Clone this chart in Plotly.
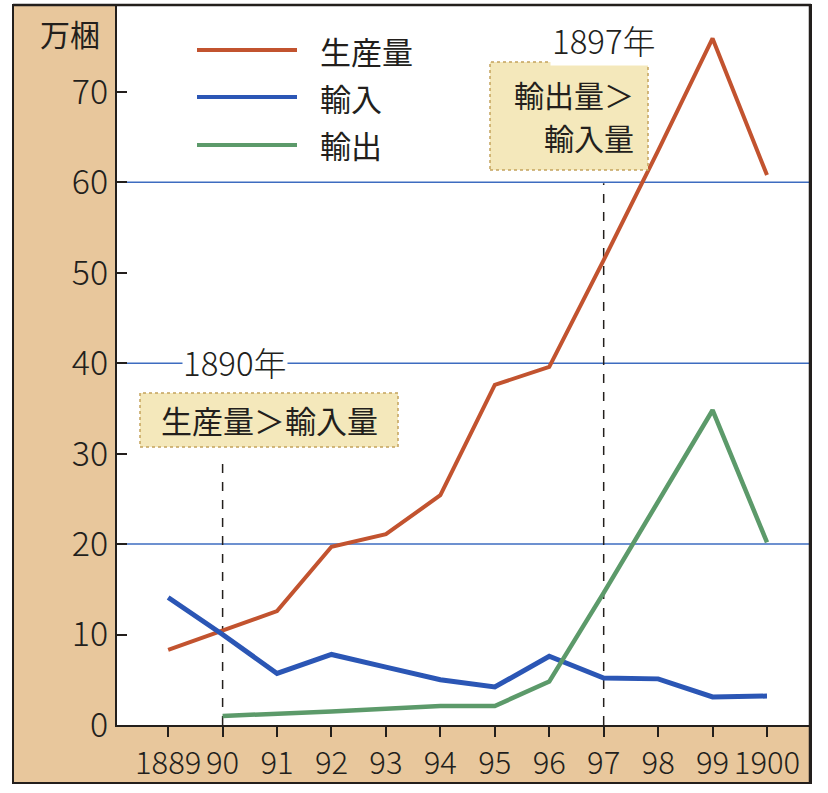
import plotly.graph_objects as go

years = [1889, 1890, 1891, 1892, 1893, 1894, 1895, 1896, 1897, 1898, 1899, 1900]
tick_labels = ["1889", "90", "91", "92", "93", "94", "95", "96", "97", "98", "99", "1900"]
production = [8.3, 10.5, 12.6, 19.7, 21.1, 25.4, 37.6, 39.6, 51.4, 63.5, 75.9, 60.8]
imports = [14.1, 10.0, 5.7, 7.8, 6.4, 5.0, 4.2, 7.6, 5.2, 5.1, 3.1, 3.2]
exports = [None, 1.0, 1.2, 1.5, 1.8, 2.1, 2.1, 4.8, 14.6, 24.7, 34.8, 20.2]
series_names = ["生産量", "輸入", "輸出"]
series_colors = ["#c2532f", "#2b56b5", "#5c9a6a"]
y_ticks = [0, 10, 20, 30, 40, 50, 60, 70]
grid_values = [20, 40, 60]
marker_years = [1890, 1897]
marker_tops = [29.3, 59.9]

W, H = 828, 793
L, R, T, B = 117, 18, 5, 68
PW, PH = W - L - R, H - T - B


def px(x):
    return (x - L) / PW


def py(y):
    return (H - B - y) / PH


NUM = "Noto Sans CJK JP"
JP = "Noto Sans CJK JP"
INK = "#231f1c"

fig = go.Figure()
for name, vals, col, w in zip(series_names, [production, imports, exports], series_colors, [4, 5, 4.5]):
    fig.add_trace(go.Scatter(x=years, y=vals, mode="lines", name=name,
                             line=dict(color=col, width=w), showlegend=False, hoverinfo="skip"))

shapes = []
# tan frame
shapes.append(dict(type="rect", xref="paper", yref="paper", x0=px(13), x1=px(811), y0=py(783), y1=py(5),
                   fillcolor="#e8c79c", line=dict(color=INK, width=2), layer="below"))
# white plot area
shapes.append(dict(type="rect", xref="paper", yref="paper", x0=0, x1=px(810), y0=0, y1=1,
                   fillcolor="white", line=dict(width=0), layer="below"))
for g in grid_values:
    shapes.append(dict(type="line", xref="paper", yref="y", x0=0, x1=px(810), y0=g, y1=g,
                       line=dict(color="#3d6cc0", width=1.5), layer="below"))
for yr, top in zip(marker_years, marker_tops):
    shapes.append(dict(type="line", xref="x", yref="y", x0=yr, x1=yr, y0=0, y1=top,
                       line=dict(color=INK, width=1.5, dash="dash"), layer="below"))
# frame lines top/right
shapes.append(dict(type="line", xref="paper", yref="paper", x0=px(13), x1=px(811), y0=py(5), y1=py(5),
                   line=dict(color=INK, width=2.5)))
shapes.append(dict(type="line", xref="paper", yref="paper", x0=px(810), x1=px(810), y0=py(5), y1=py(783),
                   line=dict(color=INK, width=2.5)))
# annotation boxes
shapes.append(dict(type="rect", xref="paper", yref="paper", x0=px(140), x1=px(398), y0=py(447), y1=py(393),
                   fillcolor="#f4e8bb", line=dict(color="#c4a35c", width=1.5, dash="dot")))
shapes.append(dict(type="rect", xref="paper", yref="paper", x0=px(490), x1=px(648), y0=py(170), y1=py(62),
                   fillcolor="#f4e8bb", line=dict(color="#c4a35c", width=1.5, dash="dot")))
# legend sample lines
leg_y = [50, 97, 145]
for col, ly in zip(series_colors, leg_y):
    shapes.append(dict(type="line", xref="paper", yref="paper", x0=px(197), x1=px(297), y0=py(ly), y1=py(ly),
                       line=dict(color=col, width=4)))

annotations = []
for name, ly in zip(series_names, leg_y):
    annotations.append(dict(x=px(318), y=py(ly), xref="paper", yref="paper", text=name, showarrow=False,
                            xanchor="left", yanchor="middle", font=dict(family=JP, size=31, color=INK)))
annotations.append(dict(x=px(70), y=py(33), xref="paper", yref="paper", text="万梱", showarrow=False,
                        xanchor="center", yanchor="middle", font=dict(family=JP, size=30, color=INK)))
annotations.append(dict(x=px(235), y=py(362), xref="paper", yref="paper", text="1890年", showarrow=False,
                        xanchor="center", yanchor="middle", bgcolor="white", borderpad=0,
                        font=dict(family=NUM, size=33, color=INK, weight=300)))
annotations.append(dict(x=px(604), y=py(40), xref="paper", yref="paper", text="1897年", showarrow=False,
                        xanchor="center", yanchor="middle", bgcolor="white",
                        font=dict(family=NUM, size=33, color=INK, weight=300)))
annotations.append(dict(x=px(269), y=py(420), xref="paper", yref="paper", text="生産量＞輸入量", showarrow=False,
                        xanchor="center", yanchor="middle", font=dict(family=JP, size=31, color=INK)))
annotations.append(dict(x=px(636), y=py(94), xref="paper", yref="paper", text="輸出量＞", showarrow=False,
                        xanchor="right", yanchor="middle", font=dict(family=JP, size=30, color=INK)))
annotations.append(dict(x=px(636), y=py(137), xref="paper", yref="paper", text="輸入量", showarrow=False,
                        xanchor="right", yanchor="middle", font=dict(family=JP, size=30, color=INK)))

fig.update_layout(
    width=W, height=H, margin=dict(l=L, r=R, t=T, b=B, autoexpand=False),
    paper_bgcolor="white", plot_bgcolor="rgba(0,0,0,0)",
    shapes=shapes, annotations=annotations, showlegend=False,
    xaxis=dict(range=[1888.06, 1900.79], tickmode="array", tickvals=years, ticktext=tick_labels,
               tickangle=0, automargin=False,
               showgrid=False, zeroline=False, showline=True, linecolor=INK, linewidth=2,
               ticks="outside", ticklen=10, tickcolor=INK, tickwidth=1.5,
               tickfont=dict(family=NUM, size=31, color=INK, weight=300)),
    yaxis=dict(range=[0, 79.6], tickmode="array", tickvals=y_ticks, ticktext=[str(v) for v in y_ticks],
               automargin=False,
               showgrid=False, zeroline=False, showline=True, linecolor=INK, linewidth=2,
               ticks="inside", ticklen=10, tickcolor=INK, tickwidth=1.5,
               tickfont=dict(family=NUM, size=34, color=INK, weight=300)),
)

fig.write_html("out.html", config={"displayModeBar": False},
               post_script="document.body.style.margin='0';document.body.style.padding='0';")
